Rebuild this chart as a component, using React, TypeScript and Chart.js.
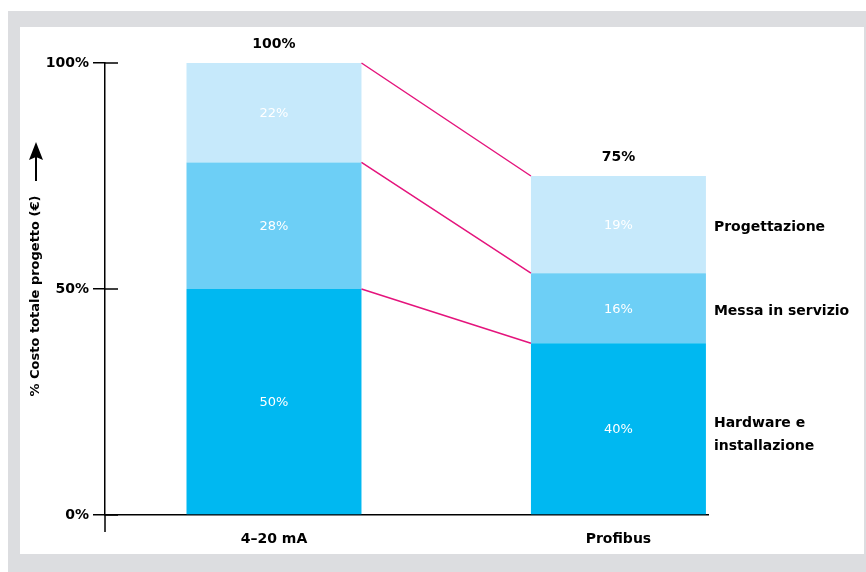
import React, { useEffect, useRef } from "react";
import { Chart, registerables } from "chart.js";

Chart.register(...registerables);

// ---- data ----
const categories = ["4–20 mA", "Profibus"];
const seriesNames = ["Hardware e installazione", "Messa in servizio", "Progettazione"];
const hardwareValues = [50, 38];
const commissioningValues = [28, 15.5];
const engineeringValues = [22, 21.5];
const hardwareLabels = ["50%", "40%"];
const commissioningLabels = ["28%", "16%"];
const engineeringLabels = ["22%", "19%"];
const totalLabels = ["100%", "75%"];
const sideLabels = [["Hardware e", "installazione"], ["Messa in servizio"], ["Progettazione"]];
const yTickValues = [0, 50, 100];
const yTitle = "% Costo totale progetto (€)";

const colors = ["#00b8f1", "#6dcff6", "#c6e9fb"];
const BOLD = "bold 14px 'DejaVu Sans'";

const overlay = {
  id: "overlay",
  afterDatasetsDraw(chart: any) {
    const { ctx, chartArea, scales } = chart;
    const ys = scales.y;
    const metas = [0, 1, 2].map((i) => chart.getDatasetMeta(i));
    const segLabels = [hardwareLabels, commissioningLabels, engineeringLabels];
    ctx.save();

    // y axis extension below 0 and tick crosses
    ctx.strokeStyle = "#000";
    ctx.lineWidth = 1.5;
    ctx.beginPath();
    ctx.moveTo(chartArea.left, chartArea.bottom);
    ctx.lineTo(chartArea.left, chartArea.bottom + 17);
    yTickValues.forEach((v) => {
      const py = ys.getPixelForValue(v);
      ctx.moveTo(chartArea.left, py);
      ctx.lineTo(chartArea.left + 13, py);
    });
    ctx.stroke();

    // connecting magenta lines
    ctx.strokeStyle = "#e4147c";
    ctx.lineWidth = 1.5;
    ctx.beginPath();
    metas.forEach((m) => {
      const a = m.data[0];
      const b = m.data[1];
      ctx.moveTo(a.x + a.width / 2, a.y);
      ctx.lineTo(b.x - b.width / 2, b.y);
    });
    ctx.stroke();

    // segment labels
    ctx.fillStyle = "#fff";
    ctx.font = "13px 'DejaVu Sans'";
    ctx.textAlign = "center";
    ctx.textBaseline = "middle";
    metas.forEach((m, si) => {
      m.data.forEach((bar: any, ci: number) => {
        ctx.fillText(segLabels[si][ci], bar.x, (bar.y + bar.base) / 2 + 1);
      });
    });

    // totals
    ctx.fillStyle = "#000";
    ctx.font = BOLD;
    const top = metas[2];
    top.data.forEach((bar: any, ci: number) => {
      ctx.fillText(totalLabels[ci], bar.x, bar.y - 19);
    });

    // side labels next to last bar
    ctx.textAlign = "left";
    metas.forEach((m, si) => {
      const bar = m.data[1];
      const cx = bar.x + bar.width / 2 + 8;
      const cy = (bar.y + bar.base) / 2;
      const lines = sideLabels[si];
      if (lines.length === 1) {
        ctx.fillText(lines[0], cx, cy + 3);
      } else {
        ctx.fillText(lines[0], cx, cy - 5);
        ctx.fillText(lines[1], cx, cy + 18);
      }
    });

    // y title with arrow
    ctx.font = "bold 13px 'DejaVu Sans'";
    ctx.save();
    ctx.translate(36, 296);
    ctx.rotate(-Math.PI / 2);
    ctx.textAlign = "center";
    ctx.fillText(yTitle, 0, 0);
    ctx.restore();
    ctx.strokeStyle = "#000";
    ctx.fillStyle = "#000";
    ctx.beginPath();
    ctx.lineWidth = 2;
    ctx.moveTo(36, 181);
    ctx.lineTo(36, 152);
    ctx.stroke();
    ctx.beginPath();
    ctx.moveTo(36, 142);
    ctx.lineTo(43, 160);
    ctx.lineTo(36, 157);
    ctx.lineTo(29, 160);
    ctx.closePath();
    ctx.fill();

    ctx.restore();
  },
};

export default function App() {
  const ref = useRef<HTMLCanvasElement | null>(null);

  useEffect(() => {
    if (!ref.current) return;
    const series = [hardwareValues, commissioningValues, engineeringValues];
    const chart = new Chart(ref.current, {
      type: "bar",
      data: {
        datasets: series.map((vals, i) => ({
          label: seriesNames[i],
          data: vals.map((v, ci) => ({ x: ci, y: v })),
          backgroundColor: colors[i],
          borderWidth: 0,
          stack: "s",
          barPercentage: 0.508,
          categoryPercentage: 1,
        })),
      } as any,
      options: {
        animation: false,
        responsive: false,
        maintainAspectRatio: false,
        layout: { padding: { left: 0, top: 63, right: 158, bottom: 0 } },
        plugins: { legend: { display: false }, tooltip: { enabled: false } },
        scales: {
          x: {
            type: "linear",
            stacked: true,
            offset: false,
            min: -0.4906,
            max: 1.26,
            afterFit: (s: any) => {
              s.height = 57;
            },
            afterBuildTicks: (s: any) => {
              s.ticks = categories.map((_, i) => ({ value: i }));
            },
            ticks: {
              callback: (v: any) => categories[Math.round(v)],
              font: { family: "'DejaVu Sans'", size: 14, weight: "bold" },
              color: "#000",
              padding: 16,
              maxRotation: 0,
              autoSkip: false,
            },
            grid: { display: false, drawTicks: false },
            border: { display: true, color: "#000", width: 1.5 },
          },
          y: {
            stacked: true,
            min: 0,
            max: 100,
            afterFit: (s: any) => {
              s.width = 105;
            },
            ticks: {
              stepSize: 50,
              callback: (v: any) => v + "%",
              font: { family: "'DejaVu Sans'", size: 14, weight: "bold" },
              color: "#000",
              padding: 4,
            },
            grid: {
              drawOnChartArea: false,
              drawTicks: true,
              tickLength: 12,
              color: "#000",
              lineWidth: 1.5,
            },
            border: { display: true, color: "#000", width: 1.5 },
          },
        },
      } as any,
      plugins: [overlay],
    });
    return () => chart.destroy();
  }, []);

  return (
    <div style={{ position: "absolute", left: 0, top: 0, width: 866, height: 572, background: "#fff", overflow: "hidden" }}>
      <div style={{ position: "absolute", left: 8, top: 11, width: 858, height: 561, background: "#dcdde0" }} />
      <div style={{ position: "absolute", left: 20, top: 27, width: 844, height: 527, background: "#fff" }} />
      <canvas ref={ref} width={866} height={572} style={{ position: "absolute", left: 0, top: 0, width: 866, height: 572 }} />
    </div>
  );
}
